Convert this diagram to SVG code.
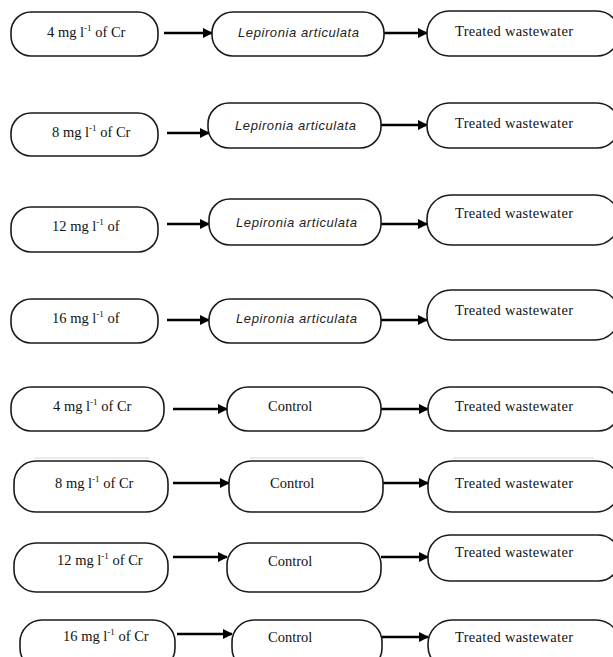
<svg xmlns="http://www.w3.org/2000/svg" width="613" height="657" viewBox="0 0 613 657">
<defs>
<marker id="ah" viewBox="0 0 10 10" refX="9" refY="5" markerWidth="4" markerHeight="4" orient="auto" markerUnits="strokeWidth">
<path d="M0,0 L10,5 L0,10 z" fill="#000"/>
</marker>
<style>
.box{fill:#fff;stroke:#1a1a1a;stroke-width:1.6}
.arr{stroke:#000;stroke-width:2.6;fill:none;marker-end:url(#ah)}
.src{font-family:"Liberation Serif",serif;font-size:14.5px;fill:#111}
.sup{font-size:9px}
.lep{font-family:"Liberation Sans",sans-serif;font-style:italic;font-size:13px;fill:#222}
.ctl{font-family:"Liberation Serif",serif;font-size:14.5px;fill:#111}
.tw{font-family:"Liberation Serif",serif;font-size:14.5px;fill:#111}
.faint{stroke:#e2e2e2;stroke-width:1.5}
</style>
</defs>
<rect width="613" height="657" fill="#fff"/>

<g id="connectors">
<line class="arr" x1="164" y1="33" x2="212" y2="33"/>
<line class="arr" x1="384" y1="33" x2="427" y2="33"/>
<line class="arr" x1="167" y1="133" x2="209" y2="133"/>
<line class="arr" x1="381" y1="125" x2="427" y2="125"/>
<line class="arr" x1="167" y1="224" x2="209" y2="224"/>
<line class="arr" x1="381" y1="224" x2="427" y2="224"/>
<line class="arr" x1="167" y1="320" x2="209" y2="320"/>
<line class="arr" x1="381" y1="320" x2="427" y2="320"/>
<line class="arr" x1="173" y1="409" x2="227" y2="409"/>
<line class="arr" x1="381" y1="409" x2="428" y2="409"/>
<line class="arr" x1="173" y1="483" x2="229" y2="483"/>
<line class="arr" x1="383" y1="483" x2="428" y2="483"/>
<line class="arr" x1="173" y1="557" x2="227" y2="557"/>
<line class="arr" x1="381" y1="557" x2="428" y2="557"/>
<line class="arr" x1="177" y1="634" x2="232" y2="634"/>
<line class="arr" x1="382" y1="637" x2="428" y2="637"/>
</g>

<g id="artifacts">
<line class="faint" x1="35" y1="458" x2="149" y2="458"/>
<line class="faint" x1="250" y1="458" x2="364" y2="458"/>
<line class="faint" x1="453" y1="458" x2="594" y2="458"/>
</g>

<!-- Row 1 -->
<g id="r1-src"><rect class="box" x="11" y="12" width="147" height="44" rx="20"/>
<text class="src" x="47" y="37">4 mg l<tspan class="sup" dy="-6">-1</tspan><tspan dy="6"> of Cr</tspan></text></g>
<g id="r1-mid"><rect class="box" x="212" y="12" width="172" height="44" rx="21"/>
<text class="lep" x="238" y="37" textLength="121">Lepironia articulata</text></g>
<g id="r1-out"><rect class="box" x="427" y="11" width="192" height="45" rx="22"/>
<text class="tw" x="455" y="36" textLength="118">Treated wastewater</text></g>

<!-- Row 2 -->
<g id="r2-src"><rect class="box" x="11" y="113" width="147" height="43" rx="20"/>
<text class="src" x="52" y="137">8 mg l<tspan class="sup" dy="-6">-1</tspan><tspan dy="6"> of Cr</tspan></text></g>
<g id="r2-mid"><rect class="box" x="208" y="103" width="173" height="45" rx="21"/>
<text class="lep" x="235" y="130" textLength="121">Lepironia articulata</text></g>
<g id="r2-out"><rect class="box" x="427" y="103" width="192" height="45" rx="22"/>
<text class="tw" x="455" y="128" textLength="118">Treated wastewater</text></g>

<!-- Row 3 -->
<g id="r3-src"><rect class="box" x="11" y="207" width="147" height="45" rx="20"/>
<text class="src" x="52" y="231">12 mg l<tspan class="sup" dy="-6">-1</tspan><tspan dy="6"> of</tspan></text></g>
<g id="r3-mid"><rect class="box" x="209" y="199" width="172" height="46" rx="21"/>
<text class="lep" x="236" y="227" textLength="121">Lepironia articulata</text></g>
<g id="r3-out"><rect class="box" x="427" y="195" width="192" height="50" rx="24"/>
<text class="tw" x="455" y="218" textLength="118">Treated wastewater</text></g>

<!-- Row 4 -->
<g id="r4-src"><rect class="box" x="11" y="299" width="147" height="44" rx="20"/>
<text class="src" x="52" y="323">16 mg l<tspan class="sup" dy="-6">-1</tspan><tspan dy="6"> of</tspan></text></g>
<g id="r4-mid"><rect class="box" x="209" y="299" width="172" height="44" rx="21"/>
<text class="lep" x="236" y="323" textLength="121">Lepironia articulata</text></g>
<g id="r4-out"><rect class="box" x="427" y="290" width="192" height="50" rx="24"/>
<text class="tw" x="455" y="315" textLength="118">Treated wastewater</text></g>

<!-- Row 5 -->
<g id="r5-src"><rect class="box" x="11" y="387" width="153" height="44" rx="20"/>
<text class="src" x="53" y="411">4 mg l<tspan class="sup" dy="-6">-1</tspan><tspan dy="6"> of Cr</tspan></text></g>
<g id="r5-mid"><rect class="box" x="227" y="387" width="154" height="44" rx="21"/>
<text class="ctl" x="268" y="411">Control</text></g>
<g id="r5-out"><rect class="box" x="428" y="387" width="192" height="44" rx="22"/>
<text class="tw" x="455" y="411" textLength="118">Treated wastewater</text></g>

<!-- Row 6 -->
<g id="r6-src"><rect class="box" x="14" y="461" width="154" height="51" rx="22"/>
<text class="src" x="55" y="488">8 mg l<tspan class="sup" dy="-6">-1</tspan><tspan dy="6"> of Cr</tspan></text></g>
<g id="r6-mid"><rect class="box" x="229" y="461" width="154" height="51" rx="22"/>
<text class="ctl" x="270" y="488">Control</text></g>
<g id="r6-out"><rect class="box" x="428" y="461" width="192" height="51" rx="24"/>
<text class="tw" x="455" y="488" textLength="118">Treated wastewater</text></g>

<!-- Row 7 -->
<g id="r7-src"><rect class="box" x="14" y="543" width="154" height="49" rx="22"/>
<text class="src" x="57" y="565">12 mg l<tspan class="sup" dy="-6">-1</tspan><tspan dy="6"> of Cr</tspan></text></g>
<g id="r7-mid"><rect class="box" x="227" y="543" width="154" height="49" rx="22"/>
<text class="ctl" x="268" y="566">Control</text></g>
<g id="r7-out"><rect class="box" x="428" y="535" width="192" height="46" rx="22"/>
<text class="tw" x="455" y="557" textLength="118">Treated wastewater</text></g>

<!-- Row 8 -->
<g id="r8-src"><rect class="box" x="20" y="620" width="155" height="50" rx="22"/>
<text class="src" x="63" y="641">16 mg l<tspan class="sup" dy="-6">-1</tspan><tspan dy="6"> of Cr</tspan></text></g>
<g id="r8-mid"><rect class="box" x="232" y="620" width="150" height="50" rx="22"/>
<text class="ctl" x="268" y="642">Control</text></g>
<g id="r8-out"><rect class="box" x="428" y="620" width="192" height="50" rx="24"/>
<text class="tw" x="455" y="642" textLength="118">Treated wastewater</text></g>
</svg>
